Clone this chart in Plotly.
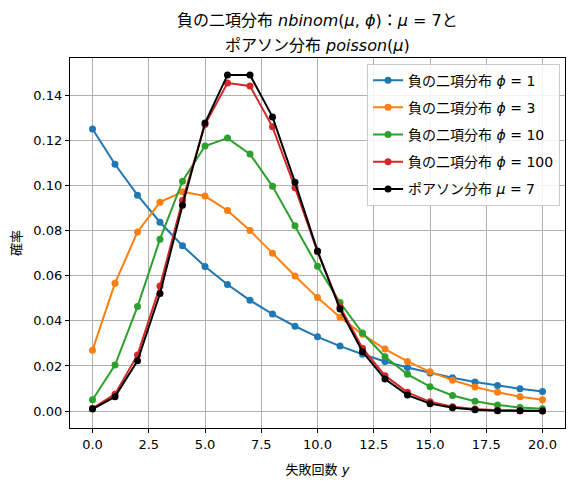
import plotly.graph_objects as go

# values
y_counts = list(range(21))

nb_phi1 = [0.1250, 0.1094, 0.0957, 0.0837, 0.0733, 0.0641, 0.0561, 0.0491, 0.0430, 0.0376,
           0.0329, 0.0288, 0.0252, 0.0220, 0.0193, 0.0169, 0.0148, 0.0129, 0.0113, 0.0099, 0.0087]
nb_phi3 = [0.0270, 0.0567, 0.0794, 0.0926, 0.0972, 0.0953, 0.0889, 0.0800, 0.0700, 0.0599,
           0.0503, 0.0416, 0.0340, 0.0275, 0.0220, 0.0174, 0.0137, 0.0107, 0.0083, 0.0064, 0.0050]
nb_phi10 = [0.0050, 0.0204, 0.0463, 0.0762, 0.1019, 0.1175, 0.1210, 0.1139, 0.0996, 0.0821,
            0.0642, 0.0481, 0.0346, 0.0241, 0.0163, 0.0108, 0.0069, 0.0044, 0.0027, 0.0016, 0.0010]
nb_phi100 = [0.0012, 0.0075, 0.0249, 0.0554, 0.0933, 0.1270, 0.1454, 0.1441, 0.1260, 0.0990,
             0.0706, 0.0462, 0.0279, 0.0157, 0.0083, 0.0041, 0.0019, 0.0009, 0.0004, 0.0002, 0.0001]
poisson7 = [0.0009, 0.0064, 0.0223, 0.0521, 0.0912, 0.1277, 0.1490, 0.1490, 0.1304, 0.1014,
            0.0710, 0.0452, 0.0263, 0.0142, 0.0071, 0.0033, 0.0015, 0.0006, 0.0002, 0.0001, 0.0000]

series = [
    ("負の二項分布 <i>ϕ</i> = 1", nb_phi1, "#1f77b4"),
    ("負の二項分布 <i>ϕ</i> = 3", nb_phi3, "#ff7f0e"),
    ("負の二項分布 <i>ϕ</i> = 10", nb_phi10, "#2ca02c"),
    ("負の二項分布 <i>ϕ</i> = 100", nb_phi100, "#d62728"),
    ("ポアソン分布 <i>μ</i> = 7", poisson7, "black"),
]

title_lines = [
    "負の二項分布 <i>nbinom</i>(<i>μ</i>, <i>ϕ</i>)：<i>μ</i> = 7と",
    "ポアソン分布 <i>poisson</i>(<i>μ</i>)",
]

font_family = "DejaVu Sans, Noto Sans CJK JP, sans-serif"

fig = go.Figure()
for i, (name, vals, color) in enumerate(series):
    fig.add_trace(go.Scatter(
        x=y_counts, y=vals, name=name, mode="lines+markers",
        legendgroup=f"g{i}",
        line=dict(color=color, width=2),
        marker=dict(color=color, size=7),
    ))

# page body has an 8px margin, so the figure is a bit smaller than the window
fig.update_layout(
    width=567,
    height=481,
    margin=dict(l=62, r=10, t=50, b=61, autoexpand=False),
    paper_bgcolor="white",
    plot_bgcolor="white",
    font=dict(family=font_family, size=13, color="black"),
    legend=dict(
        x=0.99, xanchor="right", y=0.985, yanchor="top",
        bgcolor="rgba(255,255,255,0.85)", bordercolor="#cccccc", borderwidth=1,
        font=dict(size=14), tracegroupgap=6,
    ),
    showlegend=True,
)
# two-line title, one annotation per line to get matplotlib-like spacing
for k, line in enumerate(title_lines):
    fig.add_annotation(
        text=line, xref="paper", yref="paper", x=0.5, y=1.0,
        yshift=38 - 25 * k, xanchor="center", yanchor="middle",
        showarrow=False, font=dict(size=16),
    )
fig.update_xaxes(
    range=[-1, 21], tickvals=[0, 2.5, 5, 7.5, 10, 12.5, 15, 17.5, 20],
    ticktext=["0.0", "2.5", "5.0", "7.5", "10.0", "12.5", "15.0", "17.5", "20.0"],
    showgrid=True, gridcolor="#b0b0b0", gridwidth=0.8, zeroline=False,
    showline=True, linecolor="black", linewidth=1.2, mirror=True,
    ticks="outside", ticklen=4, tickcolor="black", automargin=False,
    title=dict(text="失敗回数 <i>y</i>", font=dict(size=13), standoff=14),
)
fig.update_yaxes(
    range=[-0.0075, 0.1565], tickvals=[0, 0.02, 0.04, 0.06, 0.08, 0.10, 0.12, 0.14],
    tickformat=".2f",
    showgrid=True, gridcolor="#b0b0b0", gridwidth=0.8, zeroline=False,
    showline=True, linecolor="black", linewidth=1.2, mirror=True,
    ticks="outside", ticklen=4, tickcolor="black", automargin=False,
    title=dict(text="確率", font=dict(size=13), standoff=8),
)

fig.write_html("out.html")
